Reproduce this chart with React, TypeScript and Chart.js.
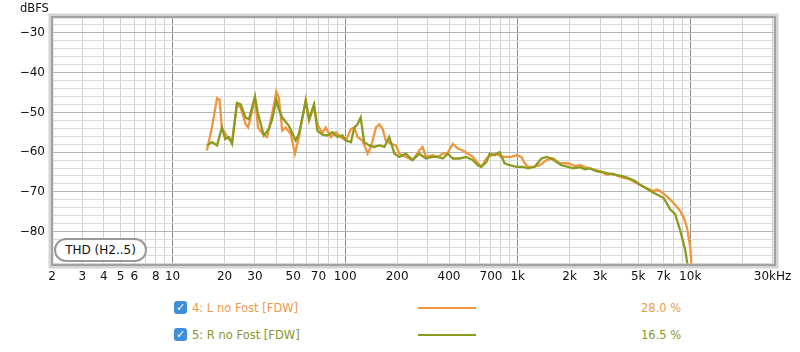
import React, { useEffect, useRef } from 'react';
import { Chart, registerables } from 'chart.js';

Chart.register(...registerables);

// ---- Data (Hz / dBFS) ----
const orangeFreq = [
  15.8, 16.9, 18.1, 18.7, 19.3, 20.2, 21.2, 22.1, 23.6, 24.8, 26.5, 27.4, 28.9, 30.0, 31.3, 33.8, 35.3, 37.0, 38.7, 39.9, 41.3,
  43.2, 45.2, 48.3, 51.2, 54.0, 59.1, 61.8, 66.0, 69.0, 73.8, 77.2, 82.6, 88.3, 94.4, 101, 108, 113, 118, 126, 135, 141, 151,
  158, 165, 172, 184, 197, 206, 225, 246, 269, 281, 294, 321, 344, 368, 393, 421, 450, 481, 514, 550, 588, 615, 658, 703,
  752, 804, 860, 919, 983, 1051, 1098, 1148, 1227, 1342, 1469, 1604, 1755, 1961, 2150, 2300, 2460, 2622, 2850, 3050, 3279,
  3550, 3800, 4095, 4450, 4899, 5300, 5700, 6116, 6400, 6692, 7150, 7649, 8200, 8748, 9200, 9568, 10000, 10230,
];
const orangeDb = [
  -59.6, -53.8, -46.4, -46.8, -53.8, -55.4, -56.7, -57.5, -48.0, -48.8, -53.0, -53.8, -49.7, -46.4, -53.8, -55.8, -56.2,
  -52.1, -48.0, -44.7, -46.4, -54.6, -53.8, -55.4, -60.4, -56.2, -46.8, -52.1, -48.4, -53.0, -55.2, -53.8, -56.2, -55.0,
  -56.2, -57.1, -54.2, -53.8, -56.2, -57.1, -60.4, -58.7, -53.8, -53.0, -54.2, -57.1, -57.9, -58.3, -60.4, -61.2, -62.0,
  -59.6, -58.7, -61.2, -60.8, -61.2, -60.4, -60.2, -57.9, -59.1, -59.6, -60.4, -61.2, -62.8, -63.7, -61.6, -60.8, -60.4,
  -61.2, -61.2, -61.2, -60.8, -61.2, -62.8, -63.7, -63.7, -63.3, -62.0, -61.6, -62.8, -62.8, -63.5, -63.2, -63.8, -64.1,
  -64.5, -64.9, -65.7, -65.4, -66.0, -66.5, -66.8, -67.8, -68.6, -69.2, -69.8, -69.4, -69.8, -70.8, -71.9, -73.3, -74.8,
  -76.6, -78.9, -83.8, -90.0,
];

const greenFreq = [
  15.8, 16.9, 18.1, 19.3, 20.2, 21.2, 22.1, 23.6, 24.8, 26.5, 27.7, 30.0, 31.3, 33.8, 36.1, 37.8, 39.9, 41.3, 43.2, 47.2, 51.7,
  54.0, 59.1, 61.8, 66.0, 69.0, 73.8, 78.9, 84.4, 90.2, 96.4, 101, 108, 113, 118, 123, 129, 138, 147, 158, 169, 180, 193,
  206, 225, 246, 269, 294, 321, 344, 368, 393, 421, 460, 503, 550, 588, 615, 658, 688, 736, 786, 840, 899, 983, 1074, 1148,
  1256, 1373, 1469, 1571, 1679, 1795, 1961, 2097, 2300, 2450, 2622, 2850, 3050, 3279, 3600, 4095, 4378, 4750, 5121, 5600,
  6116, 6500, 6995, 7300, 7649, 8181, 8748, 9353, 9774,
];
const greenDb = [
  -58.3, -57.5, -58.3, -53.8, -56.7, -56.2, -57.9, -47.6, -48.0, -51.3, -51.7, -46.0, -50.5, -55.8, -54.2, -51.7, -46.8,
  -49.3, -51.3, -53.4, -57.1, -55.4, -47.2, -51.7, -48.0, -54.6, -55.6, -55.8, -55.0, -56.2, -55.8, -57.1, -57.5, -53.8,
  -53.0, -51.3, -57.5, -58.3, -58.7, -58.3, -58.7, -56.2, -60.4, -61.2, -60.4, -62.0, -60.4, -61.6, -61.2, -61.2, -61.6,
  -60.4, -61.6, -61.6, -61.2, -62.0, -63.3, -63.7, -62.5, -60.4, -60.8, -60.0, -62.8, -63.3, -63.7, -63.7, -64.1, -63.7,
  -61.6, -61.2, -61.6, -62.5, -63.3, -63.7, -64.1, -63.8, -64.3, -64.1, -64.8, -65.0, -65.3, -65.6, -66.1, -66.5, -67.2,
  -68.2, -69.2, -70.2, -70.8, -71.5, -72.8, -74.4, -75.6, -79.7, -84.6, -90.0,
];

// ---- Axis ticks ----
const xGridValues = [
  2, 3, 4, 5, 6, 7, 8, 9, 10, 20, 30, 40, 50, 60, 70, 80, 90, 100, 200, 300, 400, 500, 600, 700, 800, 900, 1000, 2000, 3000,
  4000, 5000, 6000, 7000, 8000, 9000, 10000, 20000, 30000,
];
const xLabelValues = [2, 3, 4, 5, 6, 8, 10, 20, 30, 50, 70, 100, 200, 400, 700, 1000, 2000, 3000, 5000, 7000, 10000, 30000];
const xLabelTexts = ['2', '3', '4', '5', '6', '8', '10', '20', '30', '50', '70', '100', '200', '400', '700', '1k', '2k', '3k', '5k', '7k', '10k', '30kHz'];
const xMajorValues = [10, 100, 1000, 10000];

const yGridValues = [
  -88, -86, -84, -82, -80, -78, -76, -74, -72, -70, -68, -66, -64, -62, -60, -58, -56, -54, -52, -50, -48, -46, -44, -42,
  -40, -38, -36, -34, -32, -30, -28,
];
const yLabelValues = [-80, -70, -60, -50, -40, -30];
const yLabelTexts = ['−80', '−70', '−60', '−50', '−40', '−30'];

const seriesNames = ['4: L no Fost [FDW]', '5: R no Fost [FDW]'];
const seriesThd = ['28.0 %', '16.5 %'];
const seriesColors = ['#F2963E', '#8C9A1E'];
const textColors = ['#EE9A48', '#8A9628'];

const FONT = '"DejaVu Sans", "Liberation Sans", sans-serif';

export default function App() {
  const ref = useRef<HTMLCanvasElement>(null);

  useEffect(() => {
    document.body.style.margin = '0';
    const frame = {
      id: 'frame',
      afterDatasetsDraw(chart: any) {
        const { ctx, chartArea: a } = chart;
        ctx.save();
        ctx.strokeStyle = '#d4d4d4';
        ctx.lineWidth = 5;
        ctx.strokeRect(a.left - 1, a.top - 1, a.right - a.left + 2, a.bottom - a.top + 2);
        ctx.strokeStyle = '#a2a2a2';
        ctx.lineWidth = 2;
        ctx.strokeRect(a.left, a.top, a.right - a.left, a.bottom - a.top);
        ctx.restore();
      },
    };

    const chart = new Chart(ref.current as HTMLCanvasElement, {
      type: 'line',
      data: {
        datasets: [
          {
            label: seriesNames[1],
            data: greenFreq.map((f, i) => ({ x: f, y: greenDb[i] })),
            borderColor: seriesColors[1],
            borderWidth: 2.3,
            pointRadius: 0,
            tension: 0,
            order: 0,
          },
          {
            label: seriesNames[0],
            data: orangeFreq.map((f, i) => ({ x: f, y: orangeDb[i] })),
            borderColor: seriesColors[0],
            borderWidth: 2.3,
            pointRadius: 0,
            tension: 0,
            order: 1,
          },
        ],
      },
      options: {
        animation: false,
        responsive: false,
        maintainAspectRatio: false,
        layout: { padding: { top: 17, right: 25, left: 0, bottom: 0 } },
        plugins: { legend: { display: false }, tooltip: { enabled: false } },
        scales: {
          x: {
            type: 'logarithmic',
            min: 2,
            max: 31000,
            afterBuildTicks: (s: any) => {
              s.ticks = xGridValues.map((v) => ({ value: v }));
            },
            afterFit: (s: any) => {
              s.height = 25;
            },
            border: { display: false },
            grid: {
              drawTicks: false,
              lineWidth: 1,
              color: (c: any) => (xMajorValues.includes(c.tick?.value) ? '#8c8c8c' : '#d0d0d0'),
            },
            ticks: {
              autoSkip: false,
              maxRotation: 0,
              padding: 5,
              color: '#111',
              font: { family: FONT, size: 12 },
              callback: (v: any) => {
                const i = xLabelValues.indexOf(Number(v));
                return i >= 0 ? xLabelTexts[i] : '';
              },
            },
          },
          y: {
            type: 'linear',
            min: -88.4,
            max: -26,
            afterBuildTicks: (s: any) => {
              s.ticks = yGridValues.map((v) => ({ value: v }));
            },
            afterFit: (s: any) => {
              s.width = 52;
            },
            border: { display: false },
            grid: {
              drawTicks: false,
              lineWidth: 1,
              color: (c: any) => (yLabelValues.includes(c.tick?.value) ? '#b4b4b4' : '#dadada'),
            },
            ticks: {
              autoSkip: false,
              padding: 7,
              color: '#111',
              font: { family: FONT, size: 12 },
              callback: (v: any) => {
                const i = yLabelValues.indexOf(Number(v));
                return i >= 0 ? yLabelTexts[i] : '';
              },
            },
          },
        },
      },
      plugins: [frame],
    } as any);
    return () => chart.destroy();
  }, []);

  return (
    <div style={{ position: 'absolute', left: 0, top: 0, width: 800, height: 352, background: '#fff', fontFamily: FONT }}>
      <canvas ref={ref} width={800} height={290} style={{ position: 'absolute', left: 0, top: 0, width: 800, height: 290 }} />
      <div style={{ position: 'absolute', left: 20, top: 0, fontSize: 11.5, lineHeight: '16px', color: '#111' }}>dBFS</div>
      <div
        style={{
          position: 'absolute',
          left: 54,
          top: 238,
          width: 89,
          height: 20,
          border: '2.5px solid #999',
          borderRadius: 12,
          background: '#fff',
          fontSize: 12,
          lineHeight: '20px',
          textAlign: 'center',
          color: '#111',
        }}
      >
        THD (H2..5)
      </div>
      {[0, 1].map((k) => (
        <div key={k} style={{ position: 'absolute', left: 0, top: 298 + k * 27, width: 800, height: 20 }}>
          <div
            style={{
              position: 'absolute',
              left: 174,
              top: 3,
              width: 13,
              height: 13,
              borderRadius: 3,
              background: '#3d8fd9',
              color: '#fff',
              fontSize: 11,
              lineHeight: '13px',
              textAlign: 'center',
              fontWeight: 'bold',
            }}
          >
            ✓
          </div>
          <div style={{ position: 'absolute', left: 192, top: 0, fontSize: 11.5, lineHeight: '20px', color: textColors[k] }}>
            {seriesNames[k]}
          </div>
          <div style={{ position: 'absolute', left: 418, top: 9, width: 58, height: 2, background: seriesColors[k] }} />
          <div style={{ position: 'absolute', left: 641, top: 0, fontSize: 11.5, lineHeight: '20px', color: textColors[k] }}>
            {seriesThd[k]}
          </div>
        </div>
      ))}
    </div>
  );
}
